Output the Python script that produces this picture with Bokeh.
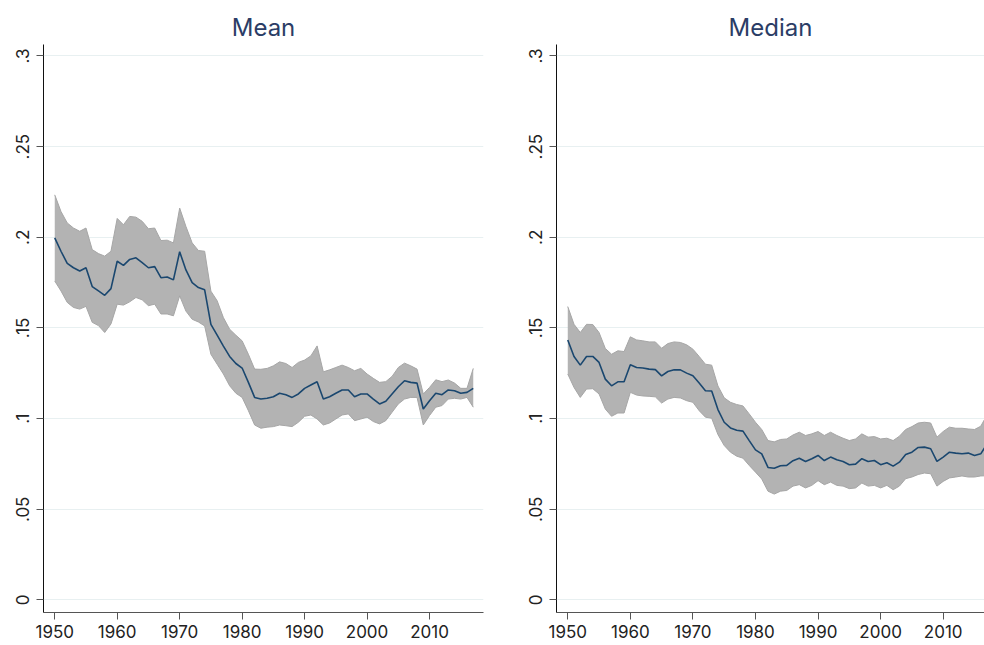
from bokeh.plotting import figure
from bokeh.layouts import row
from bokeh.models import FixedTicker, Range1d
from bokeh.embed import file_html
from bokeh.resources import INLINE

years = list(range(1950, 2018))

mean_est = [0.1997, 0.1923, 0.1856, 0.1832, 0.1814, 0.1832, 0.1728, 0.1704, 0.168, 0.1717,
            0.1868, 0.1845, 0.1878, 0.1887, 0.186, 0.1832, 0.1838, 0.1777, 0.1781, 0.1765,
            0.192, 0.182, 0.175, 0.1723, 0.171, 0.152, 0.146, 0.140, 0.1343, 0.1304,
            0.1279, 0.120, 0.1117, 0.1108, 0.1112, 0.1121, 0.114, 0.1132, 0.1117, 0.1136,
            0.1167, 0.1185, 0.1203, 0.1108, 0.1121, 0.114, 0.1158, 0.1158, 0.1121, 0.1136,
            0.1136, 0.1108, 0.1081, 0.1096, 0.1136, 0.1176, 0.1209, 0.12, 0.1196, 0.1053,
            0.1099, 0.114, 0.1132, 0.1158, 0.1154, 0.114, 0.1145, 0.1167]
mean_hi = [0.2234, 0.2142, 0.2079, 0.2051, 0.2033, 0.2051, 0.1932, 0.191, 0.1896, 0.1923,
           0.2104, 0.2069, 0.2115, 0.2111, 0.2088, 0.2047, 0.2051, 0.1982, 0.1984, 0.1969,
           0.2161, 0.206, 0.1969, 0.1927, 0.1923, 0.1703, 0.165, 0.1557, 0.1493, 0.146,
           0.1429, 0.1355, 0.1273, 0.1272, 0.1277, 0.1291, 0.1313, 0.1304, 0.1282, 0.131,
           0.1323, 0.1346, 0.1401, 0.1258, 0.1269, 0.1282, 0.1295, 0.1282, 0.1264, 0.1277,
           0.1246, 0.1222, 0.12, 0.1204, 0.1233, 0.1282, 0.1306, 0.1291, 0.1273, 0.1136,
           0.1172, 0.1214, 0.1204, 0.1213, 0.1196, 0.1167, 0.1167, 0.1277]
mean_lo = [0.1759, 0.1704, 0.1641, 0.1613, 0.1604, 0.1619, 0.1531, 0.1513, 0.1475, 0.1522,
           0.1631, 0.1626, 0.1644, 0.1668, 0.1655, 0.1623, 0.1631, 0.1577, 0.1577, 0.1567,
           0.1677, 0.1593, 0.1548, 0.1533, 0.1511, 0.1355, 0.13, 0.1246, 0.1181, 0.114,
           0.1117, 0.1044, 0.0965, 0.0947, 0.0953, 0.0956, 0.0965, 0.0961, 0.0956, 0.098,
           0.1013, 0.102, 0.0998, 0.0965, 0.0976, 0.0998, 0.102, 0.1026, 0.0989, 0.0998,
           0.1008, 0.0984, 0.0971, 0.0989, 0.1035, 0.1081, 0.1108, 0.1117, 0.1117, 0.0965,
           0.1017, 0.1063, 0.1072, 0.1108, 0.1112, 0.1108, 0.1117, 0.1063]

median_est = [0.1434, 0.1343, 0.1295, 0.1343, 0.1343, 0.131, 0.1218, 0.1181, 0.1203, 0.1203,
              0.1297, 0.1282, 0.1279, 0.1273, 0.127, 0.1236, 0.126, 0.1269, 0.1269, 0.1251,
              0.1236, 0.1196, 0.1154, 0.1152, 0.105, 0.098, 0.0949, 0.0936, 0.0931, 0.0879,
              0.0828, 0.0806, 0.0731, 0.0726, 0.074, 0.0742, 0.0768, 0.0782, 0.0764, 0.0779,
              0.0797, 0.0769, 0.0788, 0.0773, 0.0764, 0.0746, 0.0749, 0.0779, 0.0764, 0.0769,
              0.0746, 0.0757, 0.0738, 0.076, 0.0802, 0.0815, 0.0841, 0.0843, 0.0834, 0.0764,
              0.0788, 0.0815, 0.081, 0.0806, 0.081, 0.0797, 0.0806, 0.086]
median_hi = [0.1618, 0.152, 0.1475, 0.152, 0.1519, 0.1475, 0.1387, 0.1355, 0.1374, 0.137,
             0.1451, 0.1434, 0.1429, 0.1423, 0.1423, 0.1388, 0.1414, 0.1423, 0.142, 0.1407,
             0.1383, 0.1343, 0.13, 0.1295, 0.118, 0.1115, 0.109, 0.1078, 0.107, 0.1026,
             0.098, 0.094, 0.0879, 0.0872, 0.0885, 0.0888, 0.091, 0.0925, 0.0907, 0.0916,
             0.0929, 0.0907, 0.0925, 0.0907, 0.0892, 0.0879, 0.0888, 0.0916, 0.0898, 0.0901,
             0.0888, 0.0892, 0.0879, 0.0903, 0.094, 0.0956, 0.0976, 0.098, 0.0976, 0.0898,
             0.0929, 0.0953, 0.0947, 0.0947, 0.0943, 0.094, 0.0958, 0.102]
median_lo = [0.1246, 0.1172, 0.1117, 0.1163, 0.1165, 0.1136, 0.1053, 0.1013, 0.1031, 0.1031,
             0.1145, 0.113, 0.1125, 0.1123, 0.112, 0.1086, 0.1108, 0.1117, 0.1114, 0.1099,
             0.109, 0.1044, 0.1008, 0.1002, 0.0912, 0.0852, 0.0815, 0.0793, 0.0782, 0.0742,
             0.0705, 0.0667, 0.06, 0.0584, 0.06, 0.0604, 0.0628, 0.0636, 0.0618, 0.0632,
             0.0658, 0.0636, 0.065, 0.0632, 0.0628, 0.0614, 0.0618, 0.0645, 0.0628, 0.0632,
             0.0618, 0.0632, 0.0608, 0.0628, 0.0669, 0.0678, 0.0692, 0.07, 0.0696, 0.0628,
             0.0654, 0.0673, 0.0678, 0.0684, 0.0678, 0.0678, 0.0684, 0.0685]

panel_titles = ["Mean", "Median"]
y_ticks = [0, 0.05, 0.1, 0.15, 0.2, 0.25, 0.3]
y_tick_labels = ["0", ".05", ".1", ".15", ".2", ".25", ".3"]
x_ticks = [1950, 1960, 1970, 1980, 1990, 2000, 2010]

FONT = "Inter"
NAVY = "#1a476f"
BAND = "#b3b3b3"


def make_panel(title, est, lo, hi, width, x_end, border_left, border_right):
    p = figure(width=width, height=640, output_backend="svg", toolbar_location=None,
               x_range=Range1d(1948.2, x_end), y_range=Range1d(-0.0069, 0.3063),
               min_border_left=border_left, min_border_right=border_right,
               min_border_top=44, min_border_bottom=26, title=title)
    p.title.align = "center"
    p.title.text_font = FONT
    p.title.text_font_size = "24px"
    p.title.text_font_style = "normal"
    p.title.text_color = "#2b3d66"
    p.title.standoff = 6
    p.outline_line_color = None
    p.background_fill_color = "white"
    p.border_fill_color = "white"

    p.varea(x=years, y1=lo, y2=hi, fill_color=BAND, fill_alpha=1.0)
    p.line(years, hi, line_color="#a6a6a6", line_width=1)
    p.line(years, lo, line_color="#a6a6a6", line_width=1)
    p.line(years, est, line_color=NAVY, line_width=1.6)

    p.xgrid.visible = False
    p.ygrid.ticker = FixedTicker(ticks=y_ticks)
    p.ygrid.grid_line_color = "#e8f0f1"
    p.ygrid.grid_line_width = 1

    p.yaxis.ticker = FixedTicker(ticks=y_ticks)
    p.yaxis.major_label_overrides = {t: l for t, l in zip(y_ticks, y_tick_labels)}
    p.yaxis.major_label_orientation = "vertical"
    p.xaxis.ticker = FixedTicker(ticks=x_ticks)
    for ax in (p.xaxis, p.yaxis):
        ax.major_tick_out = 7
        ax.major_tick_in = 0
        ax.minor_tick_line_color = None
        ax.major_tick_line_color = "#555555"
        ax.major_label_text_font = FONT
        ax.major_label_text_font_size = "17px"
        ax.major_label_text_color = "#222222"
        ax.major_label_standoff = 5
    p.yaxis.major_label_standoff = 7
    p.yaxis.axis_line_color = "#111111"
    p.xaxis.axis_line_color = "#555555"
    return p


left = make_panel(panel_titles[0], mean_est, mean_lo, mean_hi, 521, 2018.64, 43, 38)
right = make_panel(panel_titles[1], median_est, median_lo, median_hi, 463, 2016.6, 35, 0)

layout = row(left, right)
open("out.html", "w").write(file_html(layout, INLINE))
